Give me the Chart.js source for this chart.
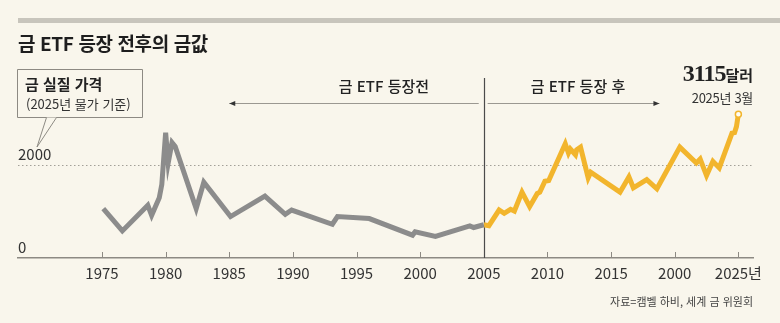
<!DOCTYPE html>
<html lang="ko">
<head>
<meta charset="utf-8">
<script src="https://cdn.jsdelivr.net/npm/chart.js@4"></script>
<style>
  html, body { margin: 0; padding: 0; background: #f9f6ec; }
  #wrap { position: relative; width: 780px; height: 323px; overflow: hidden;
          font-family: 'Noto Sans CJK KR', 'Noto Sans', sans-serif; color: #222; }
  #chart { position: absolute; left: 0; top: 0; }
  .abs { position: absolute; white-space: nowrap; }
  .topbar { left: 18px; right: 0; top: 18px; height: 5px; background: #c8c5bc; }
  .title { left: 18px; top: 29px; font-size: 19px; font-weight: 700; line-height: 28px; letter-spacing: -0.4px; color: #1e1e1e; }
  .box-1 { left: 25px; top: 73px; font-size: 15px; font-weight: 700; line-height: 22px; }
  .box-2 { left: 26px; top: 94px; font-size: 13px; line-height: 20px; color: #333; }
  .era { top: 75px; font-size: 15px; font-weight: 500; line-height: 22px; transform: translateX(-50%); color: #222; }
  .last { right: 27px; top: 58px; line-height: 30px; text-align: right; }
  .last b { font-family: 'Liberation Serif', serif; font-size: 24px; letter-spacing: -1px; }
  .last span { font-size: 15px; font-weight: 700; }
  .lastdate { right: 27px; top: 88px; font-size: 13px; line-height: 20px; color: #333; letter-spacing: -0.3px; }
  .source { right: 27px; top: 292px; font-size: 11px; line-height: 18px; color: #444; }
  svg { position: absolute; left: 0; top: 0; }
</style>
</head>
<body>
<div id="wrap">
  <canvas id="chart" width="780" height="323"></canvas>
  <div class="abs topbar"></div>
  <div class="abs title">금 ETF 등장 전후의 금값</div>
  <svg width="200" height="160">
    <path d="M17.5 69.5 H142.5 V117.5 H17.5 Z" fill="none" stroke="#8d8a83" stroke-width="1"/>
    <path d="M46.5 117.5 L37 147 L56.5 117.5" fill="#f9f6ec" stroke="#8d8a83" stroke-width="1"/>
  </svg>
  <div class="abs box-1">금 실질 가격</div>
  <div class="abs box-2">(2025년 물가 기준)</div>
  <div class="abs era" style="left:384px">금 ETF 등장전</div>
  <div class="abs era" style="left:578px">금 ETF 등장 후</div>
  <div class="abs last"><b>3115</b><span>달러</span></div>
  <div class="abs lastdate">2025년 3월</div>
  <div class="abs source">자료=캠벨 하비, 세계 금 위원회</div>
</div>
<script>
const preYears = [1975.1, 1976.6, 1978.6, 1978.9, 1979.5, 1979.7, 1980.0, 1980.2, 1980.5, 1980.75,
  1982.4, 1983.0, 1985.1, 1987.8, 1989.4, 1989.9, 1993.1, 1993.5, 1996.0, 1999.4,
  1999.6, 2001.2, 2003.9, 2004.2, 2005.0];
const preValues = [1069, 587, 1140, 925, 1305, 1591, 2716, 2058, 2501, 2415,
  1069, 1641, 897, 1340, 946, 1039, 731, 897, 854, 495,
  566, 467, 695, 660, 720];

const postYears = [2005.0, 2005.4, 2006.2, 2006.6, 2007.1, 2007.4, 2008.0, 2008.6, 2009.2, 2009.4,
  2009.8, 2010.1, 2011.4, 2011.65, 2011.8, 2012.2, 2012.3, 2012.6, 2013.2, 2013.4,
  2015.7, 2016.4, 2016.75, 2017.8, 2018.6, 2020.4, 2021.7, 2022.0, 2022.5, 2023.0,
  2023.5, 2024.5, 2024.7, 2024.85, 2025.0];
const postValues = [720, 700, 1039, 968, 1054, 1017, 1426, 1112, 1398, 1426,
  1662, 1677, 2473, 2273, 2359, 2236, 2344, 2402, 1735, 1856,
  1426, 1757, 1520, 1699, 1499, 2402, 2058, 2144, 1785, 2093,
  1950, 2703, 2716, 2845, 3115];

const tickYears = [1975, 1980, 1985, 1990, 1995, 2000, 2005, 2010, 2015, 2020, 2025];
const tickLabels = ['1975', '1980', '1985', '1990', '1995', '2000', '2005', '2010', '2015', '2000', '2025년'];
const yTickValues = [0, 2000];
const yTickLabels = ['0', '2000'];
const etfYear = 2005;

const tickFont = { family: "'Liberation Sans Narrow', 'Noto Sans CJK KR', sans-serif", size: 15 };

const overlay = {
  id: 'overlay',
  beforeDatasetsDraw(chart) {
    const { ctx, scales: { x, y } } = chart;
    const base = y.getPixelForValue(0);
    ctx.save();

    // small year marks sitting on the baseline
    ctx.strokeStyle = '#8d8a83';
    ctx.lineWidth = 1;
    x.ticks.forEach(t => {
      const px = Math.round(x.getPixelForValue(t.value)) + 0.5;
      ctx.beginPath();
      ctx.moveTo(px, base);
      ctx.lineTo(px, base - 6);
      ctx.stroke();
    });

    // ETF launch divider
    const ex = Math.round(x.getPixelForValue(etfYear)) + 0.5;
    ctx.strokeStyle = '#4b4b4b';
    ctx.lineWidth = 1.2;
    ctx.beginPath();
    ctx.moveTo(ex, 78);
    ctx.lineTo(ex, base);
    ctx.stroke();

    // before / after arrows
    const ay = 103.5;
    const drawArrow = (from, to) => {
      const x1 = x.getPixelForValue(from);
      const x2 = x.getPixelForValue(to);
      ctx.strokeStyle = '#9b9891';
      ctx.lineWidth = 1;
      ctx.beginPath();
      ctx.moveTo(x1, ay);
      ctx.lineTo(x2, ay);
      ctx.stroke();
      const dir = Math.sign(x2 - x1);
      ctx.fillStyle = '#333';
      ctx.beginPath();
      ctx.moveTo(x2, ay);
      ctx.lineTo(x2 - dir * 6, ay - 2.5);
      ctx.lineTo(x2 - dir * 6, ay + 2.5);
      ctx.closePath();
      ctx.fill();
    };
    drawArrow(2004.6, 1985.0);
    drawArrow(2005.3, 2018.8);

    ctx.restore();
  }
};

new Chart(document.getElementById('chart'), {
  type: 'line',
  data: {
    datasets: [
      {
        data: preYears.map((yr, i) => ({ x: yr, y: preValues[i] })),
        borderColor: '#8c8c8c',
        borderWidth: 5,
        borderJoinStyle: 'miter',
        pointRadius: 0,
        tension: 0,
        clip: false
      },
      {
        data: postYears.map((yr, i) => ({ x: yr, y: postValues[i] })),
        borderColor: '#f2b52d',
        borderWidth: 5,
        borderJoinStyle: 'miter',
        tension: 0,
        clip: false,
        pointRadius: ctx => (ctx.dataIndex === postYears.length - 1 ? 3 : 0),
        pointBackgroundColor: '#fffdf5',
        pointBorderColor: '#f2b52d',
        pointBorderWidth: 1.5
      }
    ]
  },
  options: {
    responsive: false,
    animation: false,
    events: [],
    layout: { padding: { left: 18, right: 27, top: 101, bottom: 35 } },
    plugins: { legend: { display: false }, tooltip: { enabled: false } },
    scales: {
      x: {
        type: 'linear',
        min: 1968.4,
        max: 2026.15,
        afterBuildTicks: axis => { axis.ticks = tickYears.map(v => ({ value: v })); },
        grid: { drawOnChartArea: false, drawTicks: false },
        border: { display: true, color: '#8d8a83', width: 1.5 },
        ticks: {
          padding: 6,
          maxRotation: 0,
          autoSkip: false,
          color: '#333',
          font: tickFont,
          callback: (v, i) => tickLabels[i]
        }
      },
      y: {
        min: 0,
        max: 3400,
        afterBuildTicks: axis => { axis.ticks = yTickValues.map(v => ({ value: v })); },
        grid: {
          drawTicks: false,
          lineWidth: 1,
          color: ctx => (ctx.tick && ctx.tick.value === 2000 ? '#a3a098' : 'rgba(0,0,0,0)')
        },
        border: { display: false, dash: [1.5, 2.5] },
        ticks: {
          mirror: true,
          padding: 0,
          labelOffset: -11,
          color: '#333',
          font: tickFont,
          callback: (v, i) => yTickLabels[i]
        }
      }
    }
  },
  plugins: [overlay]
});
</script>
</body>
</html>
